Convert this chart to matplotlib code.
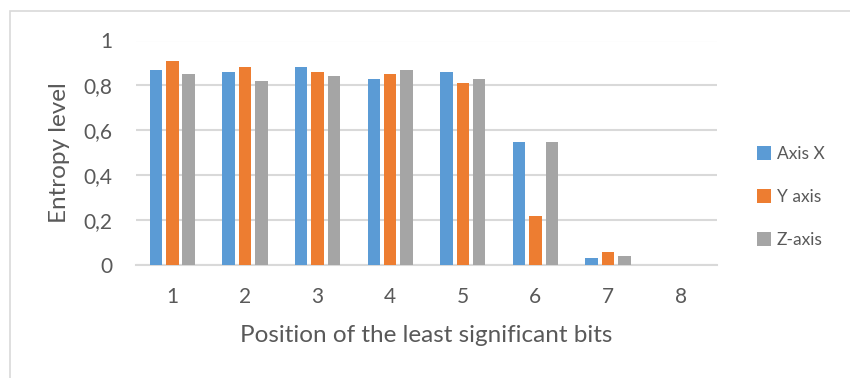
import matplotlib
matplotlib.use("Agg")
import matplotlib.pyplot as plt
from matplotlib.patches import Rectangle, Patch
from matplotlib.ticker import FuncFormatter, MultipleLocator
import numpy as np

positions = ["1", "2", "3", "4", "5", "6", "7", "8"]
axis_x = [0.87, 0.86, 0.88, 0.83, 0.86, 0.55, 0.03, 0.0]
axis_y = [0.91, 0.88, 0.86, 0.85, 0.81, 0.22, 0.06, 0.0]
axis_z = [0.85, 0.82, 0.84, 0.87, 0.83, 0.55, 0.04, 0.0]
series_names = ["Axis X", "Y axis", "Z-axis"]
colors = ["#5B9BD5", "#ED7D31", "#A5A5A5"]

text_color = "#595959"
grid_color = "#D9D9D9"
plt.rcParams["font.family"] = ["Lato", "DejaVu Sans"]

fig = plt.figure(figsize=(8.5, 3.78), dpi=100)
W, H = 850, 378
left, right, top, bottom = 136, 717, 40.5, 265
ax = fig.add_axes([left / W, 1 - bottom / H, (right - left) / W, (bottom - top) / H])

# chart area border
fig.patches.append(Rectangle((10 / W, -0.1), 1.2, 1 - 11 / H + 0.1,
                             transform=fig.transFigure, fill=False,
                             edgecolor=grid_color, linewidth=1.2))

x = np.arange(len(positions))
slot = 0.225
bar_w = 0.172
for i, (vals, c) in enumerate(zip([axis_x, axis_y, axis_z], colors)):
    ax.bar(x + (i - 1) * slot, vals, width=bar_w, color=c, label=series_names[i],
           zorder=3)

ax.set_xlim(-0.5, len(positions) - 0.5)
ax.set_ylim(0, 1)
ax.yaxis.set_major_locator(MultipleLocator(0.2))
ax.yaxis.set_major_formatter(FuncFormatter(
    lambda v, p: "0" if abs(v) < 1e-9 else ("1" if abs(v - 1) < 1e-9 else f"{v:.1f}".replace(".", ","))))
ax.set_xticks(x)
ax.set_xticklabels(positions)

ax.grid(axis="y", color=grid_color, linewidth=1.5, zorder=0)
for s in ["top", "right", "left"]:
    ax.spines[s].set_visible(False)
ax.spines["bottom"].set_color(grid_color)
ax.spines["bottom"].set_linewidth(1.5)
ax.spines["bottom"].set_zorder(1)

ax.tick_params(axis="both", length=0, labelsize=15, colors=text_color)
ax.tick_params(axis="y", pad=17)
ax.tick_params(axis="x", pad=15.5)

ax.set_xlabel("Position of the least significant bits", fontsize=17.5, color=text_color)
ax.xaxis.set_label_coords(0.5, -(335 - bottom) / (bottom - top), transform=ax.transAxes)
ax.xaxis.label.set_va("center")
ax.set_ylabel("Entropy level", fontsize=17.5, color=text_color)
ax.yaxis.set_label_coords(-(left - 60) / (right - left), 0.5, transform=ax.transAxes)
ax.yaxis.label.set_va("center")

handles = [Patch(facecolor=c, edgecolor="none") for c in colors]
fig.legend(handles, series_names, loc="center left",
           bbox_to_anchor=(757 / W, 1 - 197 / H), frameon=False,
           fontsize=12.5, labelcolor=text_color, handlelength=0.8, handleheight=0.8,
           handletextpad=0.35, labelspacing=1.55, borderaxespad=0, borderpad=0)

fig.savefig("out.png", dpi=100)
